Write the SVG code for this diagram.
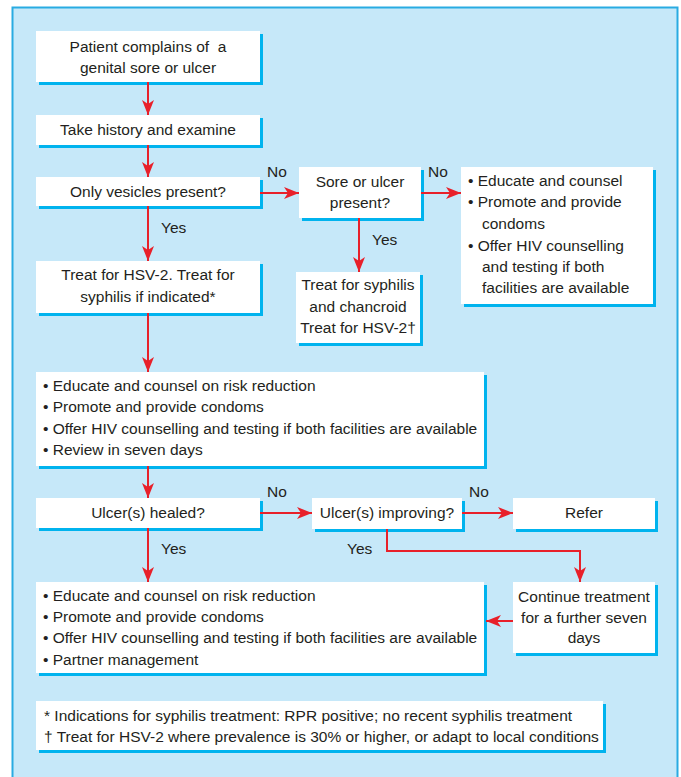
<svg xmlns="http://www.w3.org/2000/svg" width="681" height="777" viewBox="0 0 681 777">
<defs>
<marker id="ah" markerUnits="userSpaceOnUse" markerWidth="16" markerHeight="14" refX="15" refY="6.5" orient="auto">
<path d="M0,0.5 L15,6.5 L0,12.5 L4,6.5 z" fill="#e8202a"/>
</marker>
</defs>
<style>
.sh{fill:#00b3ee}
.bx{fill:#ffffff}
text{font-family:"Liberation Sans",Arial,sans-serif;font-size:15.5px;fill:#231f20}
.c{text-anchor:middle}
.ln{fill:none;stroke:#e8202a;stroke-width:2}
</style>
<rect x="0" y="0" width="681" height="777" fill="#ffffff"/>
<rect x="12.5" y="7.5" width="665" height="790" fill="#c6e8f9" stroke="#29abe2" stroke-width="2"/>

<g id="n1">
<rect class="sh" x="39" y="34" width="224" height="51"/>
<rect class="bx" x="36" y="31" width="224" height="51"/>
<text class="c" x="148" y="52">Patient complains of&#160; a</text>
<text class="c" x="148" y="73">genital sore or ulcer</text>
</g>
<g id="n2">
<rect class="sh" x="39" y="118" width="224" height="30"/>
<rect class="bx" x="36" y="115" width="224" height="30"/>
<text class="c" x="148" y="135">Take history and examine</text>
</g>
<g id="n3">
<rect class="sh" x="39" y="180" width="224" height="29"/>
<rect class="bx" x="36" y="177" width="224" height="29"/>
<text class="c" x="148" y="197">Only vesicles present?</text>
</g>
<g id="n4">
<rect class="sh" x="302" y="170" width="122" height="51"/>
<rect class="bx" x="299" y="167" width="122" height="51"/>
<text class="c" x="360" y="187">Sore or ulcer</text>
<text class="c" x="360" y="208">present?</text>
</g>
<g id="n5">
<rect class="sh" x="464" y="170" width="192" height="137"/>
<rect class="bx" x="461" y="167" width="192" height="137"/>
<text x="468" y="186">• Educate and counsel</text>
<text x="468" y="207">• Promote and provide</text>
<text x="482" y="229">condoms</text>
<text x="468" y="251">• Offer HIV counselling</text>
<text x="482" y="272">and testing if both</text>
<text x="482" y="293">facilities are available</text>
</g>
<g id="n6">
<rect class="sh" x="299" y="275" width="124" height="71"/>
<rect class="bx" x="296" y="272" width="124" height="71"/>
<text class="c" x="358" y="290">Treat for syphilis</text>
<text class="c" x="358" y="312">and chancroid</text>
<text class="c" x="358" y="333">Treat for HSV-2†</text>
</g>
<g id="n7">
<rect class="sh" x="39" y="264" width="224" height="52"/>
<rect class="bx" x="36" y="261" width="224" height="52"/>
<text class="c" x="148" y="280">Treat for HSV-2. Treat for</text>
<text class="c" x="148" y="302">syphilis if indicated*</text>
</g>
<g id="n8">
<rect class="sh" x="39" y="375" width="448" height="94"/>
<rect class="bx" x="36" y="372" width="448" height="94"/>
<text x="43" y="391">• Educate and counsel on risk reduction</text>
<text x="43" y="412">• Promote and provide condoms</text>
<text x="43" y="434">• Offer HIV counselling and testing if both facilities are available</text>
<text x="43" y="455">• Review in seven days</text>
</g>
<g id="n9">
<rect class="sh" x="39" y="501" width="224" height="30"/>
<rect class="bx" x="36" y="498" width="224" height="30"/>
<text class="c" x="148" y="518">Ulcer(s) healed?</text>
</g>
<g id="n10">
<rect class="sh" x="315" y="501" width="150" height="31"/>
<rect class="bx" x="312" y="498" width="150" height="31"/>
<text class="c" x="387" y="518">Ulcer(s) improving?</text>
</g>
<g id="n11">
<rect class="sh" x="516" y="501" width="142" height="31"/>
<rect class="bx" x="513" y="498" width="142" height="31"/>
<text class="c" x="584" y="518">Refer</text>
</g>
<g id="n12">
<rect class="sh" x="516" y="585" width="142" height="71"/>
<rect class="bx" x="513" y="582" width="142" height="71"/>
<text class="c" x="584" y="602">Continue treatment</text>
<text class="c" x="584" y="623">for a further seven</text>
<text class="c" x="584" y="643">days</text>
</g>
<g id="n13">
<rect class="sh" x="39" y="585" width="448" height="91"/>
<rect class="bx" x="36" y="582" width="448" height="91"/>
<text x="43" y="601">• Educate and counsel on risk reduction</text>
<text x="43" y="622">• Promote and provide condoms</text>
<text x="43" y="643">• Offer HIV counselling and testing if both facilities are available</text>
<text x="43" y="665">• Partner management</text>
</g>
<g id="n14">
<rect class="sh" x="39" y="704" width="567" height="49"/>
<rect class="bx" x="36" y="701" width="567" height="49"/>
<text x="44" y="721">* Indications for syphilis treatment: RPR positive; no recent syphilis treatment</text>
<text x="44" y="742">† Treat for HSV-2 where prevalence is 30% or higher, or adapt to local conditions</text>
</g>

<g id="connectors">
<line class="ln" x1="148" y1="82" x2="148" y2="115" marker-end="url(#ah)"/>
<line class="ln" x1="148" y1="145" x2="148" y2="177" marker-end="url(#ah)"/>
<line class="ln" x1="148" y1="206" x2="148" y2="261" marker-end="url(#ah)"/>
<line class="ln" x1="260" y1="193" x2="299" y2="193" marker-end="url(#ah)"/>
<line class="ln" x1="421" y1="193" x2="461" y2="193" marker-end="url(#ah)"/>
<line class="ln" x1="359" y1="218" x2="359" y2="272" marker-end="url(#ah)"/>
<line class="ln" x1="148" y1="313" x2="148" y2="372" marker-end="url(#ah)"/>
<line class="ln" x1="148" y1="466" x2="148" y2="498" marker-end="url(#ah)"/>
<line class="ln" x1="148" y1="528" x2="148" y2="582" marker-end="url(#ah)"/>
<line class="ln" x1="260" y1="513" x2="312" y2="513" marker-end="url(#ah)"/>
<line class="ln" x1="462" y1="513" x2="513" y2="513" marker-end="url(#ah)"/>
<polyline class="ln" points="387,529 387,551 580,551 580,582" marker-end="url(#ah)"/>
<line class="ln" x1="513" y1="621" x2="486" y2="621" marker-end="url(#ah)"/>
<text x="267" y="177">No</text>
<text x="428" y="177">No</text>
<text x="161" y="233">Yes</text>
<text x="372" y="245">Yes</text>
<text x="267" y="497">No</text>
<text x="469" y="497">No</text>
<text x="161" y="554">Yes</text>
<text x="347" y="554">Yes</text>
</g>
</svg>
